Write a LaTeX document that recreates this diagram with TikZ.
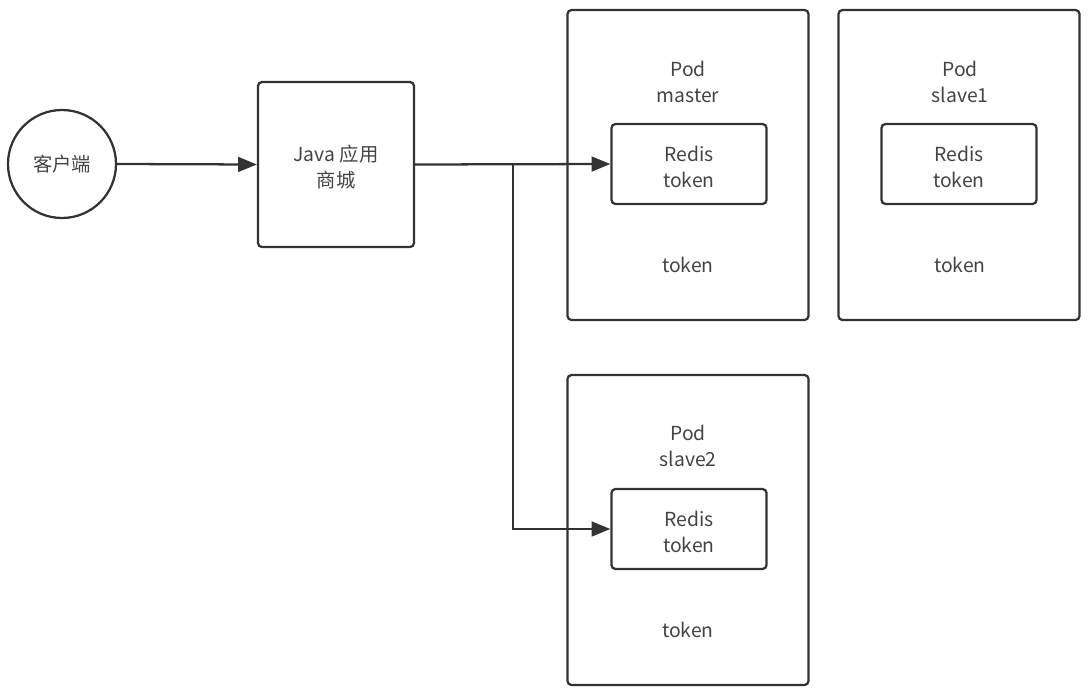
\documentclass[tikz,border=0pt]{standalone}
\usepackage{fontspec}
\newfontfamily\cjk{Noto Sans CJK SC}
\usetikzlibrary{arrows.meta}
\definecolor{ink}{HTML}{333333}
\definecolor{txt}{HTML}{444444}
\tikzset{
  box/.style={draw=ink, line width=1.7pt, rounded corners=3pt, inner sep=0pt, fill=white},
  lbl/.style={font=\cjk\fontsize{14.5pt}{19pt}\selectfont, text=txt, align=center, inner sep=0pt},
  conn/.style={draw=ink, line width=1.7pt, -{Triangle[length=14pt,width=11pt]}},
}
\begin{document}
\begin{tikzpicture}[x=0.75pt,y=-0.75pt]
\useasboundingbox (0,0) rectangle (1089,696);
% client
\node[draw=ink, line width=1.7pt, circle, minimum size=108*0.75pt, inner sep=0pt, lbl] (client) at (62,164) {客户端};
% java
\node[box, minimum width=156*0.75pt, minimum height=165*0.75pt] (java) at (336,164.5) {};
\node[lbl] (javat) at (336,167) {Java 应用\\商城};
% pod master
\node[box, minimum width=241*0.75pt, minimum height=310*0.75pt] (podm) at (688,165) {};
\node[lbl] (podmt) at (688,82) {Pod\\master};
\node[box, minimum width=155*0.75pt, minimum height=80*0.75pt] (redm) at (689,164) {};
\node[lbl] (redmt) at (689,167) {Redis\\token};
\node[lbl] (tokm) at (688,265) {token};
% pod slave1
\node[box, minimum width=241*0.75pt, minimum height=310*0.75pt] (pods1) at (959,165) {};
\node[lbl] (pods1t) at (960,82) {Pod\\slave1};
\node[box, minimum width=155*0.75pt, minimum height=80*0.75pt] (reds1) at (959,164) {};
\node[lbl] (reds1t) at (959,167) {Redis\\token};
\node[lbl] (toks1) at (960,265) {token};
% pod slave2
\node[box, minimum width=241*0.75pt, minimum height=310*0.75pt] (pods2) at (688,530) {};
\node[lbl] (pods2t) at (688,446) {Pod\\slave2};
\node[box, minimum width=155*0.75pt, minimum height=80*0.75pt] (reds2) at (689,529) {};
\node[lbl] (reds2t) at (689,532) {Redis\\token};
\node[lbl] (toks2) at (688,630) {token};
% connectors
\coordinate (br) at (513,164);
\draw[conn] (client.east) -- (java.west);
\draw[conn] (java.east) -- (redm.west);
\draw[conn] (br) |- (reds2.west);
\end{tikzpicture}
\end{document}
